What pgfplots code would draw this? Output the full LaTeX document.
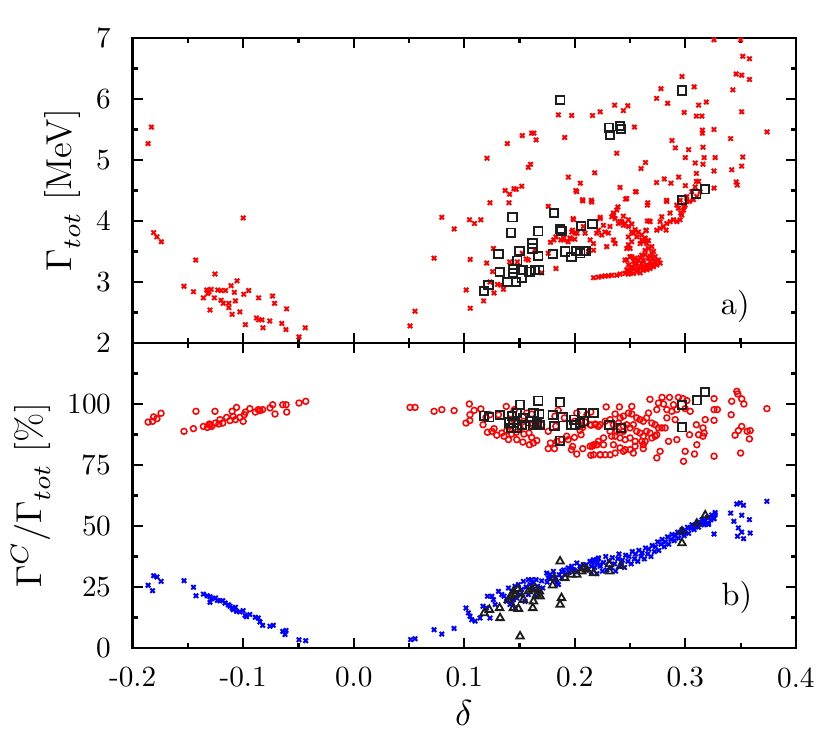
\documentclass[border=0pt]{standalone}
\usepackage{pgfplots}
\pgfplotsset{compat=1.18}
\usepackage{unicode-math}
\setmathfont{Latin Modern Math}

\definecolor{redc}{RGB}{255,0,0}
\definecolor{bluec}{RGB}{0,0,255}
\definecolor{blkc}{RGB}{30,30,30}

\pgfplotsset{
  panel/.style={
    width=215.5pt, height=99.1pt, scale only axis,
    xmin=-0.2, xmax=0.4,
    xtick={-0.2,-0.1,0,0.1,0.2,0.3,0.4},
    minor xtick={-0.15,-0.05,0.05,0.15,0.25,0.35},
    tick align=inside,
    major tick length=3.25pt, minor tick length=1.6pt,
    tick style={black, line width=0.7pt},
    axis line style={line width=0.8pt},
    tick label style={font=\fontsize{9.5}{11}\selectfont},
    yticklabel style={xshift=-3.3pt},
    xticklabel style={yshift=-2.8pt},
    label style={font=\fontsize{11.7}{14}\selectfont},
  },
  crossm/.style={only marks, mark=x, mark size=1.0pt, mark options={line width=0.65pt}},
  circm/.style={only marks, mark=o, mark size=0.95pt, mark options={line width=0.5pt}},
  sqm/.style={only marks, mark=square, color=blkc, mark size=1.35pt, mark options={line width=0.6pt}},
  trim/.style={only marks, mark=triangle, color=blkc, mark size=1.4pt, mark options={line width=0.6pt}},
}

\begin{document}
\begin{tikzpicture}
% ---- a) total width ----
\begin{axis}[panel, name=pa, at={(0,0)}, anchor=north west,
  ymin=2, ymax=7, ytick={2,3,4,5,6,7}, minor ytick={2.5,3.5,4.5,5.5,6.5},
  xticklabels={},
  ylabel={$\Gamma_{tot}$ [MeV]},
  ylabel style={at={(axis description cs:-0.0915,0.5)}, anchor=base}]
\addplot[crossm, color=redc] coordinates {
(-0.183,5.54) (-0.186,5.27) (-0.181,3.81) (-0.178,3.74) (-0.174,3.66) (-0.143,3.36) (-0.1255,3.13) (-0.1536,2.93)
(-0.145,2.84) (-0.136,2.74) (-0.133,2.87) (-0.131,2.84) (-0.129,2.88) (-0.132,2.81) (-0.123,2.87) (-0.120,2.86)
(-0.126,2.74) (-0.120,2.70) (-0.118,2.65) (-0.116,2.86) (-0.130,2.54) (-0.113,2.65) (-0.113,2.58) (-0.111,2.94)
(-0.108,2.83) (-0.107,2.69) (-0.110,2.47) (-0.1055,3.02) (-0.100,4.05) (-0.0995,2.80) (-0.095,2.86) (-0.103,2.51)
(-0.098,2.30) (-0.086,2.74) (-0.088,2.41) (-0.086,2.38) (-0.083,2.38) (-0.082,2.25) (-0.076,2.36) (-0.0734,2.77)
(-0.0716,2.65) (-0.0607,2.56) (-0.065,2.32) (-0.0613,2.22) (-0.0438,2.25) (-0.0495,2.10) (0.051,2.28) (0.0555,2.52)
(0.0727,3.39) (0.0797,4.06) (0.0909,3.87) (0.1048,4.02) (0.1093,3.96) (0.115,4.02) (0.1054,3.37) (0.1018,2.87)
(0.1054,2.57) (0.1175,2.69) (0.1206,5.03) (0.1233,4.30) (0.1264,3.55) (0.1203,3.31) (0.1257,3.17) (0.1233,3.00)
(0.127,2.82) (0.130,2.96) (0.133,2.95) (0.1355,2.88) (0.139,5.27) (0.1525,5.40) (0.161,5.44) (0.163,5.44)
(0.165,5.33) (0.137,4.50) (0.141,4.44) (0.145,4.53) (0.147,4.52) (0.152,4.57) (0.1405,4.30) (0.158,4.88)
(0.160,4.93) (0.141,3.33) (0.148,3.33) (0.1525,3.47) (0.158,3.36) (0.164,3.53) (0.170,3.15) (0.176,3.47)
(0.176,4.24) (0.178,3.65) (0.181,3.69) (0.183,3.74) (0.1874,3.69) (0.183,3.22) (0.1852,5.74) (0.1972,5.73)
(0.1909,5.37) (0.1942,4.72) (0.2017,4.48) (0.1985,4.04) (0.198,3.85) (0.196,3.71) (0.200,3.70) (0.202,3.80)
(0.190,3.72) (0.194,3.66) (0.156,3.38)
(0.326,6.97) (0.350,6.97) (0.352,6.70) (0.358,6.66) (0.346,6.41) (0.351,6.39) (0.358,6.32) (0.343,6.15)
(0.351,5.79) (0.374,5.46) (0.326,5.50) (0.3155,5.49) (0.3155,5.44) (0.341,5.35) (0.316,5.21) (0.317,5.04)
(0.327,5.04) (0.352,5.05) (0.316,4.93) (0.326,4.82) (0.342,4.84) (0.351,4.90) (0.346,4.64) (0.347,4.59)
(0.326,4.54) (0.310,4.78) (0.310,4.65) (0.309,4.95) (0.300,5.04) (0.303,5.17) (0.291,5.20) (0.288,5.32)
(0.299,5.78) (0.312,5.90) (0.319,5.95) (0.297,6.37) (0.308,6.20) (0.278,6.17) (0.274,6.01) (0.284,5.93)
(0.310,5.72) (0.315,5.72) (0.264,4.96) (0.260,4.86) (0.274,4.63) (0.281,4.69) (0.287,4.62) (0.294,4.72)
(0.300,4.58) (0.283,4.34) (0.266,4.30) (0.255,4.48) (0.241,4.55) (0.246,4.36) (0.238,5.11) (0.236,5.90)
(0.244,5.81) (0.248,5.89) (0.254,5.54) (0.223,5.79) (0.216,5.73) (0.205,4.62) (0.201,4.50) (0.207,4.35)
(0.215,4.34) (0.218,4.79) (0.239,4.23) (0.223,4.06)
(0.2169,3.07) (0.2214,3.08) (0.2244,3.09) (0.2274,3.10) (0.2304,3.10) (0.2335,3.11) (0.238,3.11) (0.241,3.13)
(0.2455,3.14) (0.2485,3.13) (0.25,3.15) (0.2531,3.14) (0.2561,3.17) (0.2591,3.15) (0.2621,3.19) (0.2651,3.20)
(0.2681,3.22) (0.2712,3.25) (0.2742,3.28) (0.2772,3.31) (0.2757,3.36) (0.2727,3.415) (0.2697,3.47) (0.2712,3.39)
(0.2681,3.33) (0.2651,3.28) (0.2621,3.25) (0.2591,3.22) (0.2561,3.20) (0.2531,3.21) (0.25,3.20) (0.247,3.20)
(0.2546,3.28) (0.2516,3.25) (0.2485,3.28) (0.2455,3.36) (0.2516,3.415) (0.2546,3.39) (0.2576,3.36) (0.2621,3.36)
(0.2666,3.39) (0.2606,3.44) (0.2636,3.52) (0.2666,3.55) (0.2651,3.63) (0.2621,3.66) (0.2606,3.69) (0.2591,3.63)
(0.2561,3.74) (0.2531,3.80) (0.2516,3.82) (0.2485,3.91) (0.2455,3.96) (0.2425,3.99) (0.2395,3.96) (0.2365,4.04)
(0.235,4.10) (0.238,4.18) (0.241,3.99) (0.244,3.93) (0.2485,3.74) (0.2516,3.66) (0.2485,3.61) (0.247,3.55)
(0.25,3.55) (0.247,3.36) (0.25,3.415)
(0.2304,3.80) (0.2319,3.91) (0.2259,3.93) (0.2229,4.04) (0.2274,3.82) (0.235,3.69) (0.2365,3.63) (0.2289,3.58)
(0.2214,3.85) (0.2199,3.80) (0.2244,3.77) (0.2169,3.63) (0.2139,3.69) (0.2123,3.50) (0.2093,3.80) (0.2078,3.91)
(0.1988,4.02) (0.1973,3.82) (0.2003,3.80) (0.1957,3.72) (0.1897,3.69) (0.2169,3.52)
(0.2742,3.85) (0.2772,3.88) (0.2802,3.91) (0.2832,3.96) (0.2862,3.99) (0.2893,4.02) (0.2923,3.99) (0.2953,4.02)
(0.2968,4.10) (0.2983,4.18) (0.2998,4.26) (0.2938,4.21) (0.2923,4.26) (0.2953,4.34) (0.3013,4.32) (0.2787,4.07)
(0.2772,3.99) (0.2862,4.13) (0.2657,4.00) (0.2675,4.00) (0.2645,3.84) (0.2657,4.26) (0.2832,4.32) (0.247,4.37)
(0.2555,4.48) (0.2072,4.33) (0.2154,4.31)
(0.2959,4.13) (0.2989,4.23) (0.3037,4.32) (0.3074,4.35) (0.3104,4.40) (0.3134,4.48) (0.3013,4.40) (0.3059,4.48)
(0.3089,4.56) (0.312,4.65) (0.2645,3.85) (0.2681,3.99) (0.2826,3.85) (0.235,4.13) (0.2335,4.07)
(0.2576,3.24) (0.2606,3.30) (0.2636,3.23) (0.2666,3.27) (0.2697,3.30) (0.2727,3.33) (0.2561,3.31) (0.2531,3.34)
(0.2591,3.40) (0.2636,3.45) (0.2681,3.42) (0.2712,3.50) (0.2697,3.58) (0.2666,3.68) (0.2636,3.72) (0.2606,3.77)
(0.2576,3.82) (0.2546,3.86) (0.2516,3.95) (0.2485,4.02) (0.2440,4.08)
};
\addplot[sqm] coordinates {
(0.187,5.98) (0.1437,4.06) (0.1422,3.81) (0.181,4.13) (0.167,3.83) (0.187,3.87) (0.188,3.84) (0.1617,3.63)
(0.1617,3.55) (0.150,3.51) (0.131,3.46) (0.148,3.35) (0.167,3.43) (0.180,3.46) (0.1915,3.50) (0.197,3.41)
(0.2015,3.51) (0.132,3.16) (0.144,3.21) (0.144,3.15) (0.153,3.20) (0.159,3.17) (0.164,3.20) (0.168,3.20)
(0.139,3.00) (0.147,3.00) (0.152,3.07) (0.122,2.95) (0.118,2.85) (0.231,5.53) (0.232,5.41) (0.241,5.56)
(0.242,5.51) (0.297,6.14) (0.297,4.34) (0.310,4.44) (0.318,4.52) (0.206,3.92) (0.216,3.95) (0.205,3.47)
(0.208,3.51) (0.210,3.51)
};
\node[anchor=base east, font=\fontsize{10.5}{12}\selectfont] at (axis cs:0.368,2.46) {a)};
\end{axis}

% ---- b) branching ratio ----
\begin{axis}[panel, name=pb, at={(pa.south west)}, anchor=north west,
  ymin=0, ymax=125, ytick={0,25,50,75,100}, minor ytick={12.5,37.5,62.5,87.5,112.5},
  xticklabels={-0.2,-0.1,0.0,0.1,0.2,0.3,0.4},
  xlabel={$\delta$},
  xlabel style={at={(axis description cs:0.5,-0.2526)}, anchor=base},
  ylabel={$\Gamma^C/\Gamma_{tot}$ [\%]},
  ylabel style={at={(axis description cs:-0.1375,0.5)}, anchor=base}]
\addplot[circm, color=redc] coordinates {
(-0.186,92.6) (-0.182,92.9) (-0.181,94.7) (-0.178,94.0) (-0.1743,96.2) (-0.1535,88.8) (-0.145,89.9) (-0.1427,97.0)
(-0.136,90.8) (-0.1324,90.4) (-0.1306,91.8) (-0.130,91.3) (-0.1285,90.8) (-0.1255,97.0) (-0.125,92.2) (-0.122,91.8)
(-0.121,93.6) (-0.1185,92.2) (-0.115,94.5) (-0.112,93.2) (-0.110,97.0) (-0.109,94.9) (-0.107,93.6) (-0.106,98.6)
(-0.103,94.5) (-0.100,92.9) (-0.099,95.6) (-0.098,96.7) (-0.094,98.1) (-0.089,96.7) (-0.0863,97.7) (-0.0848,97.3)
(-0.0824,97.7) (-0.0757,98.4) (-0.0733,99.7) (-0.0712,95.9) (-0.0642,99.7) (-0.0612,99.7) (-0.0606,96.7) (-0.0495,100.4)
(-0.0434,101.1)
(0.051,98.6) (0.0555,98.6) (0.0727,97.0) (0.0797,97.7) (0.0908,97.3) (0.1046,100.0) (0.1052,95.6) (0.109,97.4)
(0.115,98.0) (0.1016,92.2) (0.105,93.2) (0.117,91.5)
(0.121,88.4) (0.125,88.8) (0.127,89.9) (0.1294,87.2) (0.134,88.1) (0.136,86.8) (0.140,85.4) (0.1475,85.4)
(0.153,84.4) (0.159,83.3) (0.1626,84.0) (0.1656,85.0) (0.161,86.3) (0.1586,88.1) (0.154,87.7) (0.147,88.4)
(0.143,87.7) (0.1384,89.1) (0.1414,90.9) (0.1445,93.6) (0.142,95.9) (0.1454,97.7) (0.138,99.0) (0.1505,90.2)
(0.1535,92.9) (0.1565,96.3) (0.161,95.9) (0.1656,91.5) (0.170,91.5) (0.176,88.8) (0.178,84.0) (0.176,81.7)
(0.1816,81.7) (0.1837,84.7) (0.188,85.4) (0.1927,86.8) (0.194,85.4) (0.198,82.6) (0.197,81.3) (0.2018,79.5)
(0.2072,81.7) (0.2145,79.0) (0.216,82.7) (0.220,83.3) (0.223,79.2) (0.1997,86.3) (0.2057,87.4) (0.2048,89.2)
(0.2072,90.4) (0.2093,92.6) (0.2148,91.3) (0.2184,91.8) (0.2214,90.8) (0.2018,96.3) (0.211,95.6) (0.2145,96.7)
(0.185,97.4) (0.182,95.0) (0.1828,90.9) (0.1906,94.3) (0.1997,92.9) (0.2048,92.9) (0.162,91.5) (0.167,92.2)
(0.1197,94.5) (0.1233,95.6) (0.131,95.6)
(0.2284,98.8) (0.2404,98.8) (0.2516,99.0) (0.268,101.9) (0.279,102.7) (0.2857,102.7) (0.2938,102.7) (0.2978,102.2)
(0.3014,101.4) (0.2757,100.4) (0.2803,100.0) (0.2893,99.7) (0.2833,97.7) (0.2742,97.7) (0.2878,97.0) (0.2923,97.7)
(0.2999,98.1) (0.3044,97.0) (0.326,102.2) (0.326,97.7) (0.329,97.7) (0.342,101.1) (0.3466,105.2) (0.3475,104.1)
(0.351,102.1) (0.353,100.0) (0.3738,98.1) (0.3415,95.6) (0.326,93.3) (0.351,90.8) (0.356,88.8) (0.3587,89.1)
(0.348,89.1) (0.345,87.2) (0.358,85.7) (0.350,79.9) (0.326,78.6) (0.318,93.6) (0.316,90.2) (0.317,88.1)
(0.316,86.8) (0.312,87.4) (0.310,91.5) (0.3104,83.3) (0.3083,79.5) (0.3038,87.4) (0.2999,80.6) (0.2984,76.5)
(0.2923,85.4) (0.2908,93.6) (0.2833,94.3) (0.2848,84.7) (0.2772,80.6) (0.2742,77.9)
(0.2139,91.5) (0.2184,91.5) (0.2229,91.5) (0.2275,92.9) (0.232,93.6) (0.2365,95.9) (0.241,94.3) (0.244,95.0)
(0.2486,96.3) (0.2516,95.9) (0.256,94.3) (0.259,93.6) (0.262,92.9) (0.265,94.3) (0.2667,96.3) (0.2697,92.2)
(0.2727,91.5) (0.2757,90.2) (0.2788,90.2) (0.2818,90.2) (0.235,91.5) (0.2395,92.2) (0.244,90.9) (0.247,91.5)
(0.25,90.2) (0.253,91.5) (0.256,88.8) (0.259,88.1) (0.262,86.8) (0.265,88.8) (0.268,88.1) (0.2697,86.1)
(0.2727,86.8) (0.2742,87.4) (0.2637,84.7) (0.2607,84.7) (0.2546,84.7) (0.25,86.1) (0.2456,85.4) (0.241,86.1)
(0.2365,86.8) (0.2334,86.8) (0.244,88.8) (0.238,88.8) (0.232,88.8) (0.226,86.1) (0.2214,84.7) (0.217,83.3)
(0.2139,82.7) (0.22,83.3) (0.226,83.3) (0.235,83.3) (0.241,82.0) (0.2456,81.3) (0.25,81.3) (0.2546,82.7)
(0.262,83.3) (0.217,79.2) (0.2229,79.2) (0.2275,79.2) (0.232,79.2) (0.2365,79.9) (0.244,80.6) (0.253,79.9)
(0.262,81.7)
};
\addplot[crossm, color=bluec] coordinates {
(-0.186,25.7) (-0.182,23.5) (-0.181,29.6) (-0.178,29.1) (-0.1743,27.3) (-0.1535,27.6) (-0.145,24.9) (-0.1427,21.4)
(-0.136,22.1) (-0.1324,21.4) (-0.130,21.0) (-0.1285,20.2) (-0.130,18.7) (-0.125,20.5) (-0.1234,19.5) (-0.121,19.4)
(-0.1185,19.4) (-0.1164,18.4) (-0.1134,17.7) (-0.112,17.1) (-0.110,16.4) (-0.109,15.7) (-0.107,16.7) (-0.106,15.0)
(-0.103,14.8) (-0.100,15.3) (-0.0983,13.4) (-0.097,12.8) (-0.094,13.7) (-0.089,12.6) (-0.0863,12.3) (-0.0848,10.7)
(-0.0824,9.3) (-0.0757,8.9) (-0.0727,9.3) (-0.0642,6.8) (-0.0621,5.5) (-0.0612,7.2) (-0.0495,3.4) (-0.0434,3.0)
(0.0515,3.4) (0.0555,3.8) (0.0727,7.5) (0.0797,5.7) (0.0908,8.0) (0.1016,16.4) (0.1038,14.4) (0.1052,13.0)
(0.1068,11.6) (0.1098,11.0) (0.1143,12.3) (0.117,17.1) (0.120,16.4) (0.1233,12.3) (0.121,21.2) (0.125,21.2)
(0.1264,19.8) (0.128,17.8) (0.131,23.2) (0.134,21.9) (0.136,21.2) (0.140,24.6) (0.143,23.2) (0.146,25.3)
(0.149,26.0) (0.1475,20.5) (0.1445,19.8) (0.1414,17.8) (0.146,16.4) (0.1505,21.9) (0.1535,27.3) (0.158,28.0)
(0.1595,26.0) (0.161,28.0) (0.1626,26.7) (0.165,28.0) (0.1662,25.3) (0.168,23.2) (0.171,24.6) (0.1746,30.7)
(0.1776,30.1) (0.1807,31.4) (0.1822,28.7) (0.1837,26.7) (0.1852,26.0) (0.1882,28.7) (0.1912,30.1) (0.1942,32.8)
(0.1972,33.5) (0.1988,32.1) (0.2018,34.8) (0.2048,33.5) (0.2078,34.2) (0.2102,32.1) (0.2138,35.5) (0.2169,36.2)
(0.2199,34.8) (0.2214,36.9) (0.2229,34.2) (0.1882,31.4) (0.1761,28.7) (0.1656,21.2) (0.158,21.9) (0.155,19.1)
(0.143,19.1) (0.1384,19.1)
(0.152,24.0) (0.156,25.0) (0.162,24.0) (0.170,27.5) (0.175,27.0) (0.178,28.5) (0.186,30.0) (0.190,32.0)
(0.195,31.0) (0.200,31.5) (0.205,32.5) (0.210,34.0) (0.215,33.5) (0.218,35.5)
(0.215,31.0) (0.216,35.5) (0.218,33.0) (0.220,30.5) (0.221,36.5) (0.223,33.5) (0.225,31.5) (0.226,35.0)
(0.228,37.5) (0.229,32.0) (0.231,35.5) (0.233,33.0) (0.234,37.0) (0.236,34.5) (0.237,31.5) (0.239,36.5)
(0.240,38.5) (0.242,34.0) (0.243,36.0) (0.245,33.0) (0.246,38.0) (0.248,35.5) (0.249,37.5) (0.251,34.5)
(0.252,39.5) (0.254,36.5) (0.255,38.5) (0.257,35.5) (0.258,40.0) (0.260,37.5) (0.261,39.0) (0.263,36.5)
(0.264,41.0) (0.266,38.5) (0.267,40.5) (0.269,37.5) (0.270,42.0) (0.272,39.5) (0.273,41.5) (0.275,43.5)
(0.276,40.0) (0.278,42.5) (0.279,44.5) (0.281,41.5) (0.282,43.5) (0.284,45.5) (0.285,42.5) (0.287,44.5)
(0.288,46.5) (0.290,44.0) (0.291,46.0) (0.293,47.5) (0.294,45.0) (0.296,47.0) (0.297,48.5) (0.299,46.0)
(0.300,48.0) (0.302,49.5) (0.303,47.0) (0.305,49.0) (0.306,50.5) (0.308,48.5) (0.309,50.0) (0.311,51.5)
(0.312,49.5) (0.314,51.0) (0.315,52.5) (0.317,50.5) (0.318,52.0) (0.320,53.5) (0.321,51.0) (0.323,52.5)
(0.324,54.5) (0.326,53.0) (0.327,55.5) (0.3255,53.3) (0.321,50.6)
(0.3738,60.1) (0.3466,59.0) (0.3497,59.4) (0.3527,58.5) (0.341,55.3) (0.344,51.9) (0.351,54.4) (0.358,52.6)
(0.348,49.2) (0.351,47.5) (0.3527,44.8) (0.3472,45.8) (0.3587,47.1) (0.326,46.7) (0.327,54.7)
};
\addplot[sqm] coordinates {
(0.1505,99.7) (0.167,101.4) (0.1867,100.7) (0.118,95.2) (0.1227,94.5) (0.132,95.4) (0.143,95.0) (0.1475,96.3)
(0.141,92.4) (0.1445,92.2) (0.1426,90.2) (0.1475,90.2) (0.1535,94.3) (0.152,91.5) (0.1595,92.9) (0.1626,96.3)
(0.168,95.9) (0.1656,92.2) (0.1626,91.5) (0.1686,91.5) (0.180,95.4) (0.1816,90.9) (0.189,94.5) (0.1867,85.0)
(0.1997,93.6) (0.2003,91.5) (0.2063,96.3) (0.2084,92.9) (0.217,96.3) (0.197,91.5) (0.2048,92.2) (0.2314,91.5)
(0.2417,90.2) (0.297,99.5) (0.297,90.4) (0.3104,101.5) (0.318,104.9)
};
\addplot[trim] coordinates {
(0.1505,4.8) (0.118,14.3) (0.1227,15.7) (0.132,16.4) (0.1324,12.3) (0.140,19.8) (0.143,21.2) (0.146,21.9)
(0.1445,23.2) (0.148,24.3) (0.1505,22.4) (0.1535,19.8) (0.1445,16.4) (0.149,16.1) (0.158,23.2) (0.161,23.9)
(0.164,24.6) (0.168,23.2) (0.1656,21.9) (0.1686,21.2) (0.1626,19.1) (0.162,16.4) (0.180,25.7) (0.1813,28.7)
(0.188,20.5) (0.1867,17.8) (0.1867,35.5) (0.191,28.7) (0.197,30.1) (0.2018,30.1) (0.2063,31.4) (0.2078,32.8)
(0.2108,32.1) (0.217,30.7) (0.2314,34.4) (0.2314,31.4) (0.2417,33.7) (0.297,47.8) (0.297,43.0) (0.3104,51.0)
(0.318,54.4)
};
\node[anchor=base east, font=\fontsize{10.5}{12}\selectfont] at (axis cs:0.3704,17.6) {b)};
\end{axis}
\pgfresetboundingbox
\path (-43.1pt,12.35pt) rectangle (226.6pt,-226.5pt);
\end{tikzpicture}
\end{document}
